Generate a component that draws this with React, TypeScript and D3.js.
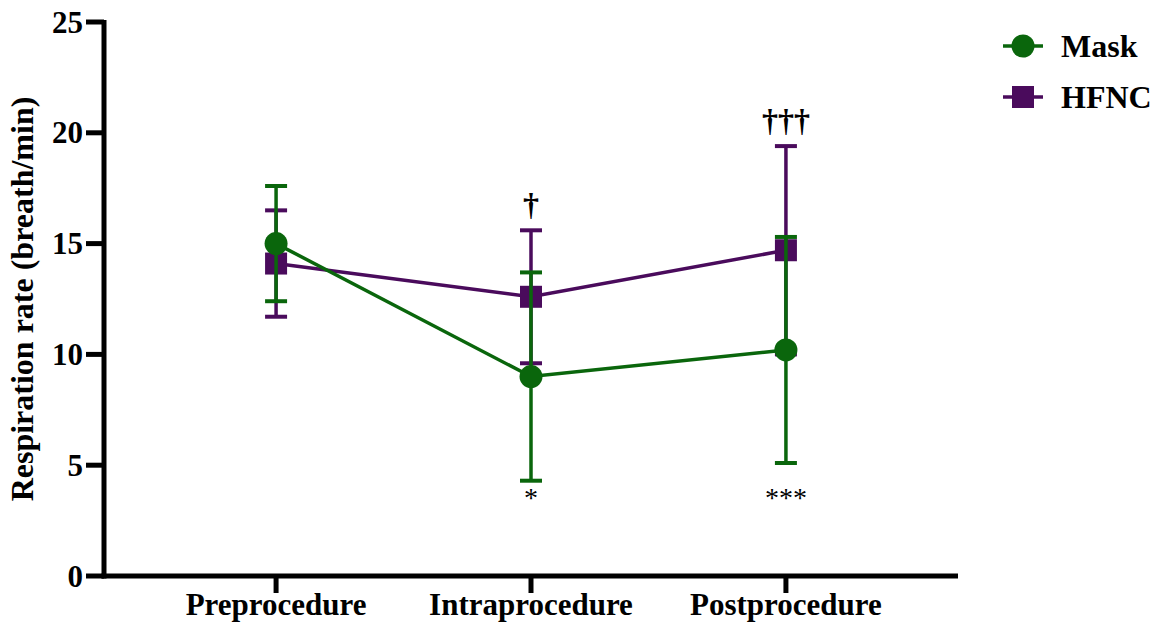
import React from "react";
import * as d3 from "d3";

const categories = ["Preprocedure", "Intraprocedure", "Postprocedure"];
const maskMean = [15.0, 9.0, 10.2];
const maskLow = [12.4, 4.3, 5.1];
const maskHigh = [17.6, 13.7, 15.3];
const hfncMean = [14.1, 12.6, 14.7];
const hfncLow = [11.7, 9.6, 10.0];
const hfncHigh = [16.5, 15.6, 19.4];
const yTicks = [0, 5, 10, 15, 20, 25];
const topMarks = ["", "†", "†††"];
const bottomMarks = ["", "*", "***"];

const GREEN = "#0a660c";
const PURPLE = "#4a0b5c";
const FONT = "'Liberation Serif', 'Times New Roman', serif";

export default function App() {
  const W = 1162, H = 633;
  const x = d3.scalePoint<string>().domain(categories).range([104, 958]).padding(0.675);
  const y = d3.scaleLinear().domain([0, 25]).range([576, 22]);
  const line = d3.line<number>().x((_, i) => x(categories[i])!).y((d) => y(d));

  const series = [
    { name: "HFNC", color: PURPLE, mean: hfncMean, low: hfncLow, high: hfncHigh, shape: "square" },
    { name: "Mask", color: GREEN, mean: maskMean, low: maskLow, high: maskHigh, shape: "circle" },
  ];

  const marker = (shape: string, cx: number, cy: number, color: string) =>
    shape === "circle" ? (
      <circle cx={cx} cy={cy} r={11.5} fill={color} />
    ) : (
      <rect x={cx - 11} y={cy - 11} width={22} height={22} fill={color} />
    );

  const starY = y(d3.min(maskLow)!) + 26;

  return (
    <svg width={W} height={H} style={{ position: "absolute", left: 0, top: 0 }} fontFamily={FONT}>
      <rect width={W} height={H} fill="#fff" />
      {series.map((s) => (
        <g key={s.name}>
          <path d={line(s.mean)!} fill="none" stroke={s.color} strokeWidth={3.5} />
          {categories.map((c, i) => {
            const cx = x(c)!;
            return (
              <g key={c}>
                <line x1={cx} x2={cx} y1={y(s.low[i])} y2={y(s.high[i])} stroke={s.color} strokeWidth={3.5} />
                <line x1={cx - 11} x2={cx + 11} y1={y(s.low[i])} y2={y(s.low[i])} stroke={s.color} strokeWidth={4} />
                <line x1={cx - 11} x2={cx + 11} y1={y(s.high[i])} y2={y(s.high[i])} stroke={s.color} strokeWidth={4} />
                {marker(s.shape, cx, y(s.mean[i]), s.color)}
              </g>
            );
          })}
        </g>
      ))}
      {categories.map((c, i) => (
        <g key={"ann" + c}>
          <text x={x(c)} y={y(hfncHigh[i]) - 15} textAnchor="middle" fontSize={32} fontWeight="bold" fill="#000">{topMarks[i]}</text>
          <text x={x(c)} y={starY} textAnchor="middle" fontSize={28} fill="#000">{bottomMarks[i]}</text>
        </g>
      ))}
      {/* axes */}
      <line x1={104} x2={104} y1={y(25) - 2} y2={y(0) + 2.5} stroke="#000" strokeWidth={5} />
      <line x1={101.5} x2={958} y1={y(0)} y2={y(0)} stroke="#000" strokeWidth={5} />
      {yTicks.map((t) => (
        <g key={t}>
          <line x1={86} x2={104} y1={y(t)} y2={y(t)} stroke="#000" strokeWidth={5} />
          <text x={83} y={y(t)} dy="0.34em" textAnchor="end" fontSize={31} fontWeight="bold">{t}</text>
        </g>
      ))}
      {categories.map((c) => (
        <g key={"xt" + c}>
          <line x1={x(c)} x2={x(c)} y1={y(0)} y2={y(0) + 17} stroke="#000" strokeWidth={5} />
          <text x={x(c)} y={615} textAnchor="middle" fontSize={31} fontWeight="bold">{c}</text>
        </g>
      ))}
      <text transform={`translate(33, ${(y(0) + y(25)) / 2}) rotate(-90)`} textAnchor="middle" fontSize={32} fontWeight="bold">
        Respiration rate (breath/min)
      </text>
      {/* legend */}
      <g>
        <line x1={1003} x2={1043} y1={46} y2={46} stroke={GREEN} strokeWidth={3.5} />
        <circle cx={1023} cy={46} r={11.5} fill={GREEN} />
        <text x={1061} y={57} fontSize={32} fontWeight="bold">Mask</text>
        <line x1={1003} x2={1043} y1={97} y2={97} stroke={PURPLE} strokeWidth={3.5} />
        <rect x={1012} y={86} width={22} height={22} fill={PURPLE} />
        <text x={1061} y={108} fontSize={32} fontWeight="bold">HFNC</text>
      </g>
    </svg>
  );
}
